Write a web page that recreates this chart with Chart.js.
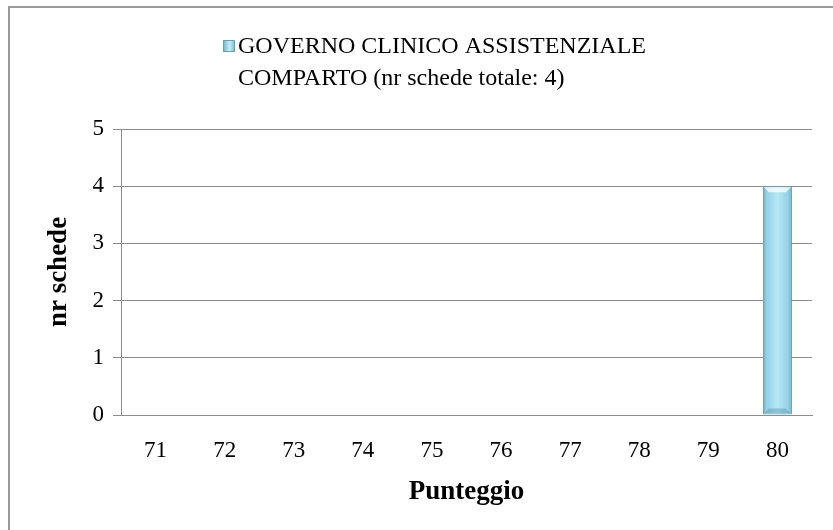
<!DOCTYPE html>
<html>
<head>
<meta charset="utf-8">
<script src="https://cdn.jsdelivr.net/npm/chart.js@4"></script>
<style>
  html, body { margin: 0; padding: 0; background: #fff; }
  #frame { position: absolute; left: 8px; top: 6px; width: 900px; height: 600px;
           border-left: 2px solid #9a9a9a; border-top: 2px solid #9a9a9a; }
  #wrap { position: absolute; left: 0; top: 0; width: 833px; height: 530px; }
</style>
</head>
<body>
<div id="frame"></div>
<div id="wrap"><canvas id="bar-chart" width="833" height="530"></canvas></div>
<script>
// data
var categories = ['71', '72', '73', '74', '75', '76', '77', '78', '79', '80'];
var schede = [0, 0, 0, 0, 0, 0, 0, 0, 0, 4];
var seriesLabel = ['GOVERNO CLINICO ASSISTENZIALE', 'COMPARTO (nr schede totale: 4)'];
var yTicks = [0, 1, 2, 3, 4, 5];

var serif = "'Liberation Serif', 'DejaVu Serif', serif";
var grigio = '#8c8c8c';

function barGradient(ctx, x0, x1) {
  var g = ctx.createLinearGradient(x0, 0, x1, 0);
  g.addColorStop(0, '#6aa9bf');
  g.addColorStop(0.12, '#93d1e5');
  g.addColorStop(0.5, '#b6e8f6');
  g.addColorStop(0.88, '#93d1e5');
  g.addColorStop(1, '#6aa9bf');
  return g;
}

// legend on two lines, drawn by hand since the built in one does not wrap
var legendaPlugin = {
  id: 'legenda',
  afterDraw: function (chart) {
    var ctx = chart.ctx;
    ctx.save();
    var g = ctx.createLinearGradient(223, 0, 236, 0);
    g.addColorStop(0, '#6fb0c6');
    g.addColorStop(0.5, '#c4eef9');
    g.addColorStop(1, '#6fb0c6');
    ctx.fillStyle = g;
    ctx.fillRect(223, 40, 12, 12);
    ctx.strokeStyle = '#6a9fb2';
    ctx.lineWidth = 1;
    ctx.strokeRect(223.5, 40.5, 11, 11);
    ctx.fillStyle = '#000';
    ctx.font = "24px " + serif;
    ctx.textBaseline = 'middle';
    ctx.textAlign = 'left';
    chart.data.datasets[0].label.forEach(function (riga, i) {
      ctx.fillText(riga, 238, 47 + i * 31.5);
    });
    ctx.restore();
  }
};

// gradient plus the small light bevel at the ends of each bar
var barreStile = {
  id: 'barreStile',
  beforeDatasetsDraw: function (chart) {
    chart.getDatasetMeta(0).data.forEach(function (bar) {
      var x0 = bar.x - bar.width / 2, x1 = bar.x + bar.width / 2;
      bar.options.backgroundColor = barGradient(chart.ctx, x0, x1);
    });
  },
  afterDatasetsDraw: function (chart) {
    var ctx = chart.ctx;
    chart.getDatasetMeta(0).data.forEach(function (bar) {
      var h = bar.base - bar.y;
      if (h <= 0) return;
      var x0 = bar.x - bar.width / 2, x1 = bar.x + bar.width / 2, b = 6;
      ctx.save();
      ctx.fillStyle = 'rgba(255,255,255,0.75)';
      ctx.beginPath();
      ctx.moveTo(x0 + 1, bar.y + 1);
      ctx.lineTo(x1 - 1, bar.y + 1);
      ctx.lineTo(x1 - b, bar.y + b);
      ctx.lineTo(x0 + b, bar.y + b);
      ctx.closePath();
      ctx.fill();
      ctx.fillStyle = 'rgba(90,150,170,0.45)';
      ctx.beginPath();
      ctx.moveTo(x0 + 1, bar.base - 1);
      ctx.lineTo(x1 - 1, bar.base - 1);
      ctx.lineTo(x1 - b, bar.base - b);
      ctx.lineTo(x0 + b, bar.base - b);
      ctx.closePath();
      ctx.fill();
      ctx.restore();
    });
  }
};

new Chart(document.getElementById('bar-chart'), {
  type: 'bar',
  data: {
    labels: categories,
    datasets: [{
      label: seriesLabel,
      data: schede,
      backgroundColor: '#a8e0f0',
      borderColor: function (c) { return c.raw ? '#6a9fb2' : 'rgba(0,0,0,0)'; },
      borderWidth: function (c) { return c.raw ? 1 : 0; },
      borderSkipped: false,
      barPercentage: 0.42,
      categoryPercentage: 1
    }]
  },
  plugins: [legendaPlugin, barreStile],
  options: {
    responsive: false,
    animation: false,
    layout: { padding: { top: 129, right: 21, bottom: 0, left: 0 } },
    plugins: {
      legend: { display: false },
      tooltip: { enabled: false }
    },
    scales: {
      x: {
        grid: { display: false },
        border: { display: true, color: grigio, width: 1 },
        ticks: { color: '#000', font: { family: serif, size: 23 }, padding: 14, maxRotation: 0 },
        title: { display: true, text: 'Punteggio', color: '#000',
                 font: { family: serif, size: 27, weight: 'bold' }, padding: { top: 0, bottom: 22 } },
        afterFit: function (s) { s.height = 115; }
      },
      y: {
        min: 0, max: 5,
        afterBuildTicks: function (s) { s.ticks = yTicks.map(function (v) { return { value: v }; }); },
        grid: { color: grigio, lineWidth: 1, tickLength: 8, drawTicks: true },
        border: { display: true, color: grigio, width: 1 },
        ticks: { color: '#000', font: { family: serif, size: 23 }, padding: 9 },
        title: { display: true, text: 'nr schede', color: '#000',
                 font: { family: serif, size: 27, weight: 'bold' }, padding: { top: 43, bottom: 0 } },
        afterFit: function (s) { s.width = 121; }
      }
    }
  }
});
</script>
</body>
</html>
